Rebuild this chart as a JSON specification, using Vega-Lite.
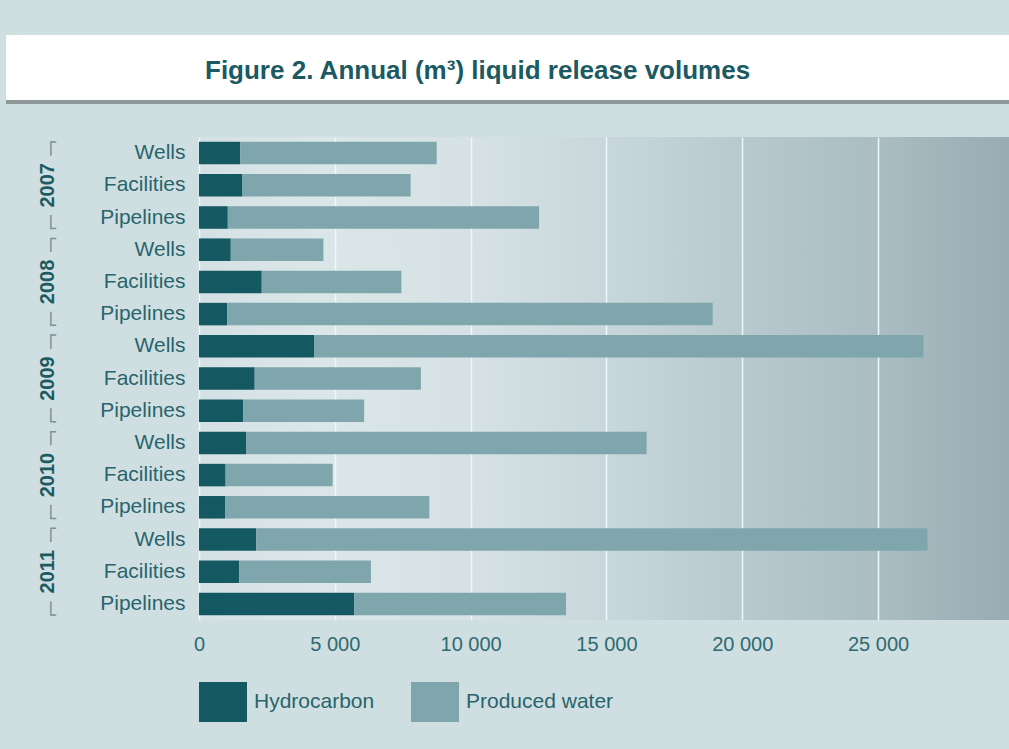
{
  "$schema": "https://vega.github.io/schema/vega-lite/v6.json",
  "background": "#cfdfe1",
  "padding": {"left": 6, "top": 35, "right": 0, "bottom": 27},
  "width": 810,
  "height": 483,
  "config": {
    "view": {"stroke": null},
    "font": "Liberation Sans"
  },
  "title": {
    "text": "Figure 2. Annual (m³) liquid release volumes",
    "font": "Liberation Sans",
    "fontWeight": "bold",
    "fontSize": 26,
    "color": "#1b5a62",
    "frame": "group",
    "anchor": "start",
    "dx": 6,
    "offset": -49
  },
  "view": {
    "stroke": null,
    "fill": {
      "gradient": "linear",
      "x1": 0, "y1": 0, "x2": 1, "y2": 0,
      "stops": [
        {"offset": 0, "color": "#d4e1e4"},
        {"offset": 0.15, "color": "#dbe6e8"},
        {"offset": 0.35, "color": "#d5e1e4"},
        {"offset": 0.5, "color": "#c8d7db"},
        {"offset": 0.7, "color": "#b5c7cc"},
        {"offset": 0.85, "color": "#a8bcc1"},
        {"offset": 1, "color": "#97adb3"}
      ]
    }
  },
  "data": {
    "values": [
      {"year": "2007", "source": "Wells", "row": "2007 Wells", "type": "Hydrocarbon", "volume": 1520},
      {"year": "2007", "source": "Wells", "row": "2007 Wells", "type": "Produced water", "volume": 7230},
      {"year": "2007", "source": "Facilities", "row": "2007 Facilities", "type": "Hydrocarbon", "volume": 1600},
      {"year": "2007", "source": "Facilities", "row": "2007 Facilities", "type": "Produced water", "volume": 6190},
      {"year": "2007", "source": "Pipelines", "row": "2007 Pipelines", "type": "Hydrocarbon", "volume": 1060},
      {"year": "2007", "source": "Pipelines", "row": "2007 Pipelines", "type": "Produced water", "volume": 11460},
      {"year": "2008", "source": "Wells", "row": "2008 Wells", "type": "Hydrocarbon", "volume": 1170},
      {"year": "2008", "source": "Wells", "row": "2008 Wells", "type": "Produced water", "volume": 3410},
      {"year": "2008", "source": "Facilities", "row": "2008 Facilities", "type": "Hydrocarbon", "volume": 2310},
      {"year": "2008", "source": "Facilities", "row": "2008 Facilities", "type": "Produced water", "volume": 5140},
      {"year": "2008", "source": "Pipelines", "row": "2008 Pipelines", "type": "Hydrocarbon", "volume": 1040},
      {"year": "2008", "source": "Pipelines", "row": "2008 Pipelines", "type": "Produced water", "volume": 17870},
      {"year": "2009", "source": "Wells", "row": "2009 Wells", "type": "Hydrocarbon", "volume": 4250},
      {"year": "2009", "source": "Wells", "row": "2009 Wells", "type": "Produced water", "volume": 22420},
      {"year": "2009", "source": "Facilities", "row": "2009 Facilities", "type": "Hydrocarbon", "volume": 2050},
      {"year": "2009", "source": "Facilities", "row": "2009 Facilities", "type": "Produced water", "volume": 6120},
      {"year": "2009", "source": "Pipelines", "row": "2009 Pipelines", "type": "Hydrocarbon", "volume": 1630},
      {"year": "2009", "source": "Pipelines", "row": "2009 Pipelines", "type": "Produced water", "volume": 4450},
      {"year": "2010", "source": "Wells", "row": "2010 Wells", "type": "Hydrocarbon", "volume": 1730},
      {"year": "2010", "source": "Wells", "row": "2010 Wells", "type": "Produced water", "volume": 14750},
      {"year": "2010", "source": "Facilities", "row": "2010 Facilities", "type": "Hydrocarbon", "volume": 980},
      {"year": "2010", "source": "Facilities", "row": "2010 Facilities", "type": "Produced water", "volume": 3940},
      {"year": "2010", "source": "Pipelines", "row": "2010 Pipelines", "type": "Hydrocarbon", "volume": 960},
      {"year": "2010", "source": "Pipelines", "row": "2010 Pipelines", "type": "Produced water", "volume": 7520},
      {"year": "2011", "source": "Wells", "row": "2011 Wells", "type": "Hydrocarbon", "volume": 2110},
      {"year": "2011", "source": "Wells", "row": "2011 Wells", "type": "Produced water", "volume": 24710},
      {"year": "2011", "source": "Facilities", "row": "2011 Facilities", "type": "Hydrocarbon", "volume": 1480},
      {"year": "2011", "source": "Facilities", "row": "2011 Facilities", "type": "Produced water", "volume": 4850},
      {"year": "2011", "source": "Pipelines", "row": "2011 Pipelines", "type": "Hydrocarbon", "volume": 5710},
      {"year": "2011", "source": "Pipelines", "row": "2011 Pipelines", "type": "Produced water", "volume": 7800}
    ]
  },
  "encoding": {
    "y": {
      "field": "row",
      "type": "nominal",
      "sort": null,
      "scale": {"paddingInner": 0.3, "paddingOuter": 0.15}
    }
  },
  "layer": [
    {
      "mark": {"type": "bar"},
      "encoding": {
        "y": {
          "field": "row",
          "type": "nominal",
          "sort": null,
          "axis": {
            "title": null,
            "domain": false,
            "ticks": false,
            "labelExpr": "split(datum.label, ' ')[1]",
            "labelFont": "Liberation Sans",
            "labelFontSize": 21,
            "labelColor": "#29646c",
            "labelPadding": 14
          }
        },
        "x": {
          "field": "volume",
          "type": "quantitative",
          "stack": "zero",
          "scale": {"domain": [0, 29820], "nice": false},
          "axis": {
            "title": null,
            "values": [0, 5000, 10000, 15000, 20000, 25000],
            "grid": true,
            "gridColor": "#f1f6f7",
            "gridWidth": 1.5,
            "domain": false,
            "ticks": false,
            "labelFont": "Liberation Sans",
            "labelFontSize": 20,
            "labelColor": "#2e6a71",
            "labelPadding": 14,
            "labelFlush": false,
            "labelExpr": "replace(format(datum.value, ','), ',', ' ')"
          }
        },
        "color": {
          "field": "type",
          "type": "nominal",
          "scale": {"domain": ["Hydrocarbon", "Produced water"], "range": ["#145862", "#7fa6ac"]},
          "legend": {
            "title": null,
            "orient": "bottom",
            "direction": "horizontal",
            "symbolType": "M-1,-1H1.4V1H-1Z",
            "symbolSize": 1600,
            "symbolStrokeWidth": 0,
            "symbolOpacity": 1,
            "labelFont": "Liberation Sans",
            "labelFontSize": 21,
            "labelColor": "#29646c",
            "labelOffset": 15,
            "columnPadding": 36,
            "offset": 28,
            "padding": 0
          }
        }
      }
    },
    {
      "mark": {"type": "point", "opacity": 0},
      "encoding": {
        "y": {
          "field": "row",
          "type": "nominal",
          "sort": null,
          "axis": {
            "orient": "left",
            "title": null,
            "domain": false,
            "ticks": false,
            "values": ["2007 Facilities", "2008 Facilities", "2009 Facilities", "2010 Facilities", "2011 Facilities"],
            "labelExpr": "split(datum.label, ' ')[0]",
            "labelAngle": -90,
            "labelAlign": "center",
            "labelBaseline": "middle",
            "labelFont": "Liberation Sans",
            "labelFontWeight": "bold",
            "labelFontSize": 20,
            "labelColor": "#1d5a62",
            "labelPadding": 152
          }
        },
        "fill": {
          "field": "volume",
          "type": "quantitative",
          "scale": {"range": ["#ffffff", "#ffffff"]},
          "legend": {
            "type": "gradient",
            "orient": "none",
            "legendX": -193,
            "legendY": -102,
            "direction": "horizontal",
            "title": null,
            "labelExpr": "''",
            "labelFontSize": 0,
            "labelOffset": 0,
            "gradientLength": 939,
            "gradientThickness": 1,
            "gradientStrokeWidth": 0,
            "padding": 32,
            "fillColor": "#ffffff"
          }
        }
      }
    },
    {
      "mark": {"type": "point", "opacity": 0},
      "encoding": {
        "y": {
          "field": "row",
          "type": "nominal",
          "sort": null,
          "axis": {
            "orient": "left",
            "title": null,
            "domain": false,
            "ticks": false,
            "values": ["2007 Facilities", "2008 Facilities", "2009 Facilities", "2010 Facilities", "2011 Facilities"],
            "labelExpr": "'\u250f\u2501\u2501\u00a0\u00a0\u00a0\u00a0\u00a0\u00a0\u00a0\u00a0\u00a0\u00a0\u00a0\u2501\u2501\u2513'",
            "labelAngle": -90,
            "labelAlign": "center",
            "labelBaseline": "middle",
            "labelFont": "DejaVu Sans Mono",
            "labelFontSize": 9,
            "labelColor": "#7d9399",
            "labelPadding": 149
          }
        },
        "stroke": {
          "field": "volume",
          "type": "quantitative",
          "scale": {"range": ["#8e989a", "#8e989a"]},
          "legend": {
            "type": "gradient",
            "orient": "none",
            "legendX": -193,
            "legendY": -37,
            "direction": "horizontal",
            "title": null,
            "labelExpr": "''",
            "labelFontSize": 0,
            "labelOffset": 0,
            "gradientLength": 1001,
            "gradientThickness": 2,
            "gradientStrokeWidth": 0,
            "padding": 1,
            "fillColor": "#8e989a"
          }
        }
      }
    }
  ],
  "resolve": {"axis": {"y": "independent"}}
}
